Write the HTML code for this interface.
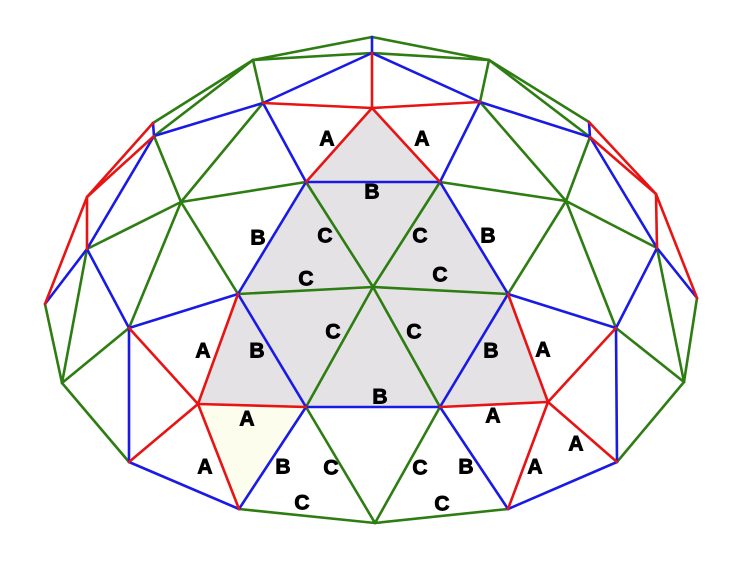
<!DOCTYPE html>
<html><head><meta charset="utf-8"><style>
html,body{margin:0;padding:0;background:#fff;}
svg{display:block;}
text{font-family:"Liberation Sans",sans-serif;font-weight:bold;font-size:21px;fill:#000;stroke:#000;stroke-width:0.9;text-anchor:middle;dominant-baseline:central;}
</style></head><body>
<svg width="750" height="578" viewBox="0 0 750 578" xmlns="http://www.w3.org/2000/svg">
<polygon points="372,108 306,182 238,294 198,404 306,407 440,407 548,402 508,294 440,182" fill="#e4e2e4"/>
<polygon points="198,404 306,407 239,509" fill="#fdfdee"/>
<g stroke-width="2.6" stroke-linecap="round" fill="none">
<g stroke="#2e7d12">
<line x1="372" y1="37" x2="253" y2="60"/><line x1="372" y1="37" x2="489" y2="60"/>
<line x1="372" y1="53" x2="253" y2="60"/><line x1="372" y1="53" x2="489" y2="60"/>
<line x1="253" y1="60" x2="263" y2="103"/><line x1="489" y1="60" x2="480" y2="102"/>
<line x1="253" y1="60" x2="153" y2="123"/><line x1="253" y1="60" x2="154" y2="136"/>
<line x1="489" y1="60" x2="589" y2="122"/><line x1="489" y1="60" x2="590" y2="137"/>
<line x1="263" y1="103" x2="181" y2="202"/><line x1="480" y1="102" x2="566" y2="201"/>
<line x1="154" y1="136" x2="181" y2="202"/><line x1="590" y1="137" x2="566" y2="201"/>
<line x1="181" y1="202" x2="306" y2="182"/><line x1="566" y1="201" x2="440" y2="182"/>
<line x1="181" y1="202" x2="87" y2="249"/><line x1="566" y1="201" x2="657" y2="248"/>
<line x1="181" y1="202" x2="238" y2="294"/><line x1="566" y1="201" x2="508" y2="294"/>
<line x1="181" y1="202" x2="129" y2="328"/><line x1="566" y1="201" x2="616" y2="328"/>
<line x1="306" y1="182" x2="373" y2="287"/><line x1="440" y1="182" x2="373" y2="287"/>
<line x1="238" y1="294" x2="373" y2="287"/><line x1="508" y1="294" x2="373" y2="287"/>
<line x1="306" y1="407" x2="373" y2="287"/><line x1="440" y1="407" x2="373" y2="287"/>
<line x1="87" y1="249" x2="62" y2="383"/><line x1="657" y1="248" x2="684" y2="382"/>
<line x1="45" y1="304" x2="62" y2="383"/><line x1="697" y1="298" x2="684" y2="382"/>
<line x1="129" y1="328" x2="62" y2="383"/><line x1="616" y1="328" x2="684" y2="382"/>
<line x1="62" y1="383" x2="129" y2="462"/><line x1="684" y1="382" x2="617" y2="462"/>
<line x1="306" y1="407" x2="375" y2="523"/><line x1="440" y1="407" x2="375" y2="523"/>
<line x1="239" y1="509" x2="375" y2="523"/><line x1="508" y1="509" x2="375" y2="523"/>
</g>
<g stroke="#1a1ae6">
<line x1="372" y1="37" x2="372" y2="53"/>
<line x1="372" y1="53" x2="263" y2="103"/><line x1="372" y1="53" x2="480" y2="102"/>
<line x1="263" y1="103" x2="154" y2="136"/><line x1="480" y1="102" x2="590" y2="137"/>
<line x1="153" y1="123" x2="154" y2="136"/><line x1="589" y1="122" x2="590" y2="137"/>
<line x1="154" y1="136" x2="87" y2="249"/><line x1="590" y1="137" x2="657" y2="248"/>
<line x1="87" y1="249" x2="45" y2="304"/><line x1="657" y1="248" x2="697" y2="298"/>
<line x1="87" y1="249" x2="129" y2="328"/><line x1="657" y1="248" x2="616" y2="328"/>
<line x1="263" y1="103" x2="306" y2="182"/><line x1="480" y1="102" x2="440" y2="182"/>
<line x1="306" y1="182" x2="440" y2="182"/>
<line x1="306" y1="182" x2="238" y2="294"/><line x1="440" y1="182" x2="508" y2="294"/>
<line x1="238" y1="294" x2="129" y2="328"/><line x1="508" y1="294" x2="616" y2="328"/>
<line x1="238" y1="294" x2="306" y2="407"/><line x1="508" y1="294" x2="440" y2="407"/>
<line x1="306" y1="407" x2="440" y2="407"/>
<line x1="129" y1="328" x2="129" y2="462"/><line x1="616" y1="328" x2="617" y2="462"/>
<line x1="129" y1="462" x2="239" y2="509"/><line x1="617" y1="462" x2="508" y2="509"/>
<line x1="306" y1="407" x2="239" y2="509"/><line x1="440" y1="407" x2="508" y2="509"/>
</g>
<g stroke="#e81414">
<line x1="372" y1="53" x2="372" y2="108"/>
<line x1="263" y1="103" x2="372" y2="108"/><line x1="480" y1="102" x2="372" y2="108"/>
<line x1="372" y1="108" x2="306" y2="182"/><line x1="372" y1="108" x2="440" y2="182"/>
<line x1="153" y1="123" x2="87" y2="197"/><line x1="154" y1="136" x2="87" y2="197"/>
<line x1="589" y1="122" x2="656" y2="194"/><line x1="590" y1="137" x2="656" y2="194"/>
<line x1="87" y1="197" x2="87" y2="249"/><line x1="656" y1="194" x2="657" y2="248"/>
<line x1="87" y1="197" x2="45" y2="304"/><line x1="656" y1="194" x2="697" y2="298"/>
<line x1="198" y1="404" x2="238" y2="294"/><line x1="548" y1="402" x2="508" y2="294"/>
<line x1="198" y1="404" x2="129" y2="328"/><line x1="548" y1="402" x2="616" y2="328"/>
<line x1="198" y1="404" x2="129" y2="462"/><line x1="548" y1="402" x2="617" y2="462"/>
<line x1="198" y1="404" x2="306" y2="407"/><line x1="548" y1="402" x2="440" y2="407"/>
<line x1="198" y1="404" x2="239" y2="509"/><line x1="548" y1="402" x2="508" y2="509"/>
</g>
</g>
<text x="327" y="139">A</text><text x="422" y="139">A</text>
<text x="372" y="192">B</text>
<text x="258" y="238">B</text><text x="325" y="236">C</text><text x="420" y="236">C</text><text x="488" y="236">B</text>
<text x="306" y="279">C</text><text x="440" y="275">C</text>
<text x="333" y="332">C</text><text x="414" y="332">C</text>
<text x="203" y="351">A</text><text x="257" y="351">B</text><text x="491" y="351">B</text><text x="543" y="350">A</text>
<text x="380" y="397">B</text>
<text x="247" y="419">A</text><text x="493" y="416">A</text><text x="576" y="444">A</text>
<text x="205" y="467">A</text><text x="283" y="467">B</text><text x="331" y="468">C</text>
<text x="420" y="468">C</text><text x="466" y="467">B</text><text x="535" y="467">A</text>
<text x="302" y="503">C</text><text x="442" y="504">C</text>
</svg>
</body></html>
